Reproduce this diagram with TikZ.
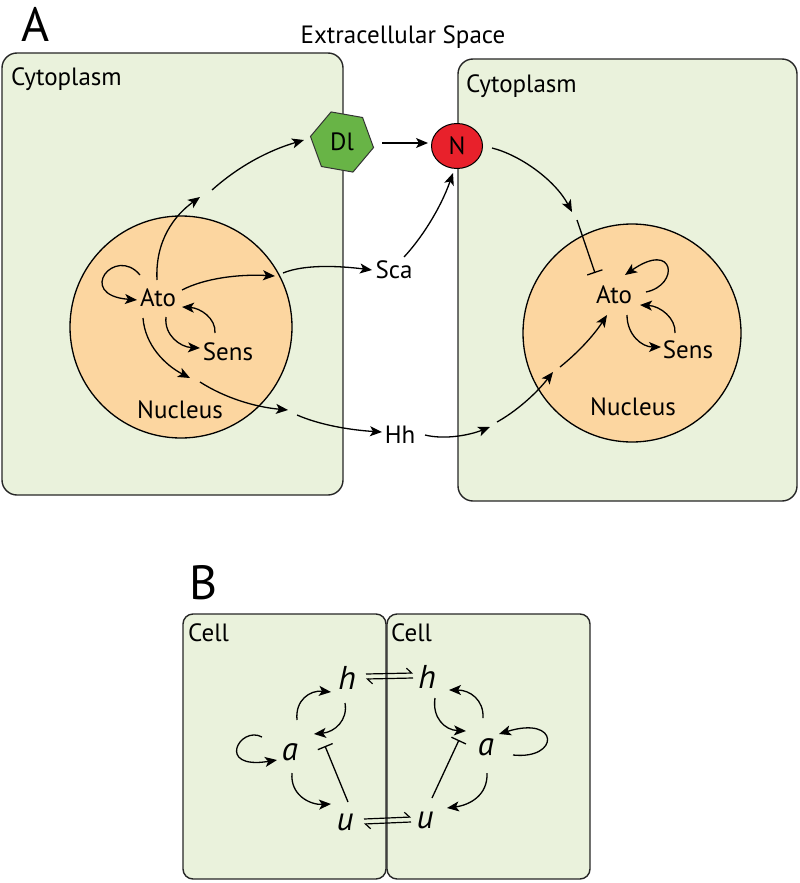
\documentclass[tikz,border=0pt]{standalone}
\usepackage{fontspec}
\setmainfont{PT Sans}
\usetikzlibrary{arrows.meta,shapes.geometric}
\definecolor{cytofill}{HTML}{EAF2DC}
\definecolor{nucfill}{HTML}{FCD6A0}
\definecolor{dlgreen}{HTML}{68B446}
\definecolor{nred}{HTML}{E8212B}
\begin{document}
\begin{tikzpicture}[x=1pt,y=-1pt,
  lbl/.style={font=\fontsize{25}{25}\selectfont, inner sep=1pt},
  var/.style={font=\fontsize{33}{33}\selectfont\itshape, inner sep=1pt},
  cellbox/.style={draw=black!85, line width=1.4pt, fill=cytofill, rounded corners=15pt},
  smallbox/.style={draw=black!85, line width=1.4pt, fill=cytofill, rounded corners=10pt},
  nuc/.style={circle, draw=black, line width=1.3pt, fill=nucfill},
  arr/.style={line width=1.3pt, -{Stealth[length=12pt,width=10pt,inset=3pt]}},
  inh/.style={line width=1.3pt, -{Bar[width=16pt,line width=1.3pt]}},
  harp/.style={line width=1.2pt, -{Straight Barb[left,length=5pt,width=10pt,line width=1.2pt]}}]
\useasboundingbox (0,0) rectangle (800,883);
% ---------- Panel A ----------
\node[font=\fontsize{48}{48}\selectfont, inner sep=0pt] (labA) at (36,24) {A};
\node[lbl] (extra) at (403,37) {Extracellular Space};
\draw[cellbox] (2,53) rectangle (343,495);
\draw[cellbox] (458,59) rectangle (797,501);
\node[lbl, anchor=west] (cytoL) at (10,79) {Cytoplasm};
\node[lbl, anchor=west] (cytoR) at (465,86) {Cytoplasm};
\node[nuc, minimum size=222pt] (nucL) at (181,327) {};
\node[nuc, minimum size=218pt] (nucR) at (632,333) {};
\node[lbl] (atoL) at (158,298) {Ato};
\node[lbl] (sensL) at (228,352) {Sens};
\node[lbl] (nucLabL) at (180,410) {Nucleus};
\node[lbl] (atoR) at (614,295) {Ato};
\node[lbl] (sensR) at (688,350) {Sens};
\node[lbl] (nucLabR) at (633,407) {Nucleus};
\node[regular polygon, regular polygon sides=6, shape border rotate=-10, minimum size=64pt,
      draw=black!80, line width=1pt, fill=dlgreen, font=\fontsize{25}{25}\selectfont, inner sep=0pt] (dl) at (342,142) {Dl};
\node[ellipse, draw=black, line width=1pt, fill=nred, minimum width=51pt, minimum height=45pt,
      font=\fontsize{25}{25}\selectfont, inner sep=0pt] (nn) at (457,146) {N};
\node[lbl] (sca) at (394,270) {Sca};
\node[lbl] (hh) at (400,435) {Hh};
% gap coordinates
\coordinate (g1a) at (200,197); \coordinate (g1b) at (212,190);
\coordinate (g2a) at (275,276); \coordinate (g2b) at (283,273);
\coordinate (g3a) at (190,378); \coordinate (g3b) at (200,382);
\coordinate (g4a) at (288,410); \coordinate (g4b) at (297,415);
\coordinate (g5a) at (490,427); \coordinate (g5b) at (497,422);
\coordinate (g6a) at (553,372); \coordinate (g6b) at (560,367);
\coordinate (g7a) at (572,212); \coordinate (g7b) at (577,220);
% left cell arrows
\draw[arr] ([shift={(-18,-23)}]atoL.center) .. controls (115,245) and (75,295) .. ([shift={(-21,2)}]atoL.center);
\draw[arr] ([shift={(-1,-18)}]atoL.center) .. controls (155,240) and (175,215) .. (g1a);
\draw[arr] (g1b) .. controls (240,165) and (270,150) .. ([shift={(-38,-2)}]dl.center);
\draw[arr] ([shift={(24,-8)}]atoL.center) .. controls (205,278) and (240,274) .. (g2a);
\draw[arr] (g2b) .. controls (305,264) and (340,266) .. ([shift={(-22,0)}]sca.center);
\draw[arr] ([shift={(8,19)}]atoL.center) .. controls (164,335) and (180,347) .. ([shift={(-28,-4)}]sensL.center);
\draw[arr] ([shift={(-13,-19)}]sensL.center) .. controls (216,318) and (200,308) .. ([shift={(24,9)}]atoL.center);
\draw[arr] ([shift={(-15,20)}]atoL.center) .. controls (145,345) and (165,365) .. (g3a);
\draw[arr] (g3b) .. controls (225,398) and (255,407) .. (g4a);
\draw[arr] (g4b) .. controls (320,425) and (350,430) .. ([shift={(-18,-3)}]hh.center);
% extracellular
\draw[arr] ([shift={(40,1)}]dl.center) -- ([shift={(-29,-3)}]nn.center);
\draw[arr] ([shift={(10,-13)}]sca.center) .. controls (420,240) and (440,210) .. ([shift={(-4,27)}]nn.center);
\draw[arr] ([shift={(25,0)}]hh.center) .. controls (445,440) and (470,435) .. (g5a);
% right cell arrows
\draw[arr] (g5b) .. controls (515,412) and (535,395) .. (g6a);
\draw[arr] (g6b) .. controls (575,355) and (592,338) .. ([shift={(-7,20)}]atoR.center);
\draw[arr] ([shift={(35,2)}]nn.center) .. controls (520,155) and (555,180) .. (g7a);
\draw[inh] (g7b) -- ([shift={(-19,-22)}]atoR.center);
\draw[arr] ([shift={(32,-3)}]atoR.center) .. controls (680,285) and (675,240) .. ([shift={(11,-20)}]atoR.center);
\draw[arr] ([shift={(13,20)}]atoR.center) .. controls (627,335) and (642,347) .. ([shift={(-27,-3)}]sensR.center);
\draw[arr] ([shift={(-13,-17)}]sensR.center) .. controls (676,318) and (660,306) .. ([shift={(26,10)}]atoR.center);
% ---------- Panel B ----------
\node[font=\fontsize{48}{48}\selectfont, inner sep=0pt] (labB) at (204,583) {B};
\draw[smallbox] (183,614) rectangle (386,879);
\draw[smallbox] (387,614) rectangle (590,879);
\node[lbl, anchor=west] (cellL) at (187,633) {Cell};
\node[lbl, anchor=west] (cellR) at (390,633) {Cell};
\node[var] (hL) at (347,678) {h};
\node[var] (aL) at (290,752) {a};
\node[var] (uL) at (345,822) {u};
\node[var] (hR) at (427,677) {h};
\node[var] (aR) at (486,747) {a};
\node[var] (uR) at (425,820) {u};
% left cell
\draw[arr] ([shift={(-28,-15)}]aL.center) .. controls (240,725) and (215,770) .. ([shift={(-13,8)}]aL.center);
\draw[arr] ([shift={(7,-32)}]aL.center) .. controls (295,700) and (310,690) .. ([shift={(-16,14)}]hL.center);
\draw[arr] ([shift={(-2,25)}]hL.center) .. controls (348,720) and (335,732) .. ([shift={(24,-18)}]aL.center);
\draw[arr] ([shift={(2,21)}]aL.center) .. controls (290,795) and (310,805) .. ([shift={(-14,-18)}]uL.center);
\draw[inh] ([shift={(3,-20)}]uL.center) -- ([shift={(35,-6)}]aL.center);
% right cell
\draw[arr] ([shift={(27,8)}]aR.center) .. controls (560,760) and (560,715) .. ([shift={(13,-13)}]aR.center);
\draw[arr] ([shift={(-3,-29)}]aR.center) .. controls (484,700) and (470,690) .. ([shift={(22,13)}]hR.center);
\draw[arr] ([shift={(8,21)}]hR.center) .. controls (432,718) and (445,730) .. ([shift={(-20,-16)}]aR.center);
\draw[arr] ([shift={(1,26)}]aR.center) .. controls (488,795) and (470,805) .. ([shift={(22,-12)}]uR.center);
\draw[inh] ([shift={(7,-22)}]uR.center) -- ([shift={(-27,-7)}]aR.center);
% harpoons
\draw[harp] ([shift={(19,-4)}]hL.center) -- ([shift={(-14,-4)}]hR.center);
\draw[harp] ([shift={(-14,1)}]hR.center) -- ([shift={(19,1)}]hL.center);
\draw[harp] ([shift={(19,-3)}]uL.center) -- ([shift={(-14,-3)}]uR.center);
\draw[harp] ([shift={(-14,2)}]uR.center) -- ([shift={(19,2)}]uL.center);
\end{tikzpicture}
\end{document}
